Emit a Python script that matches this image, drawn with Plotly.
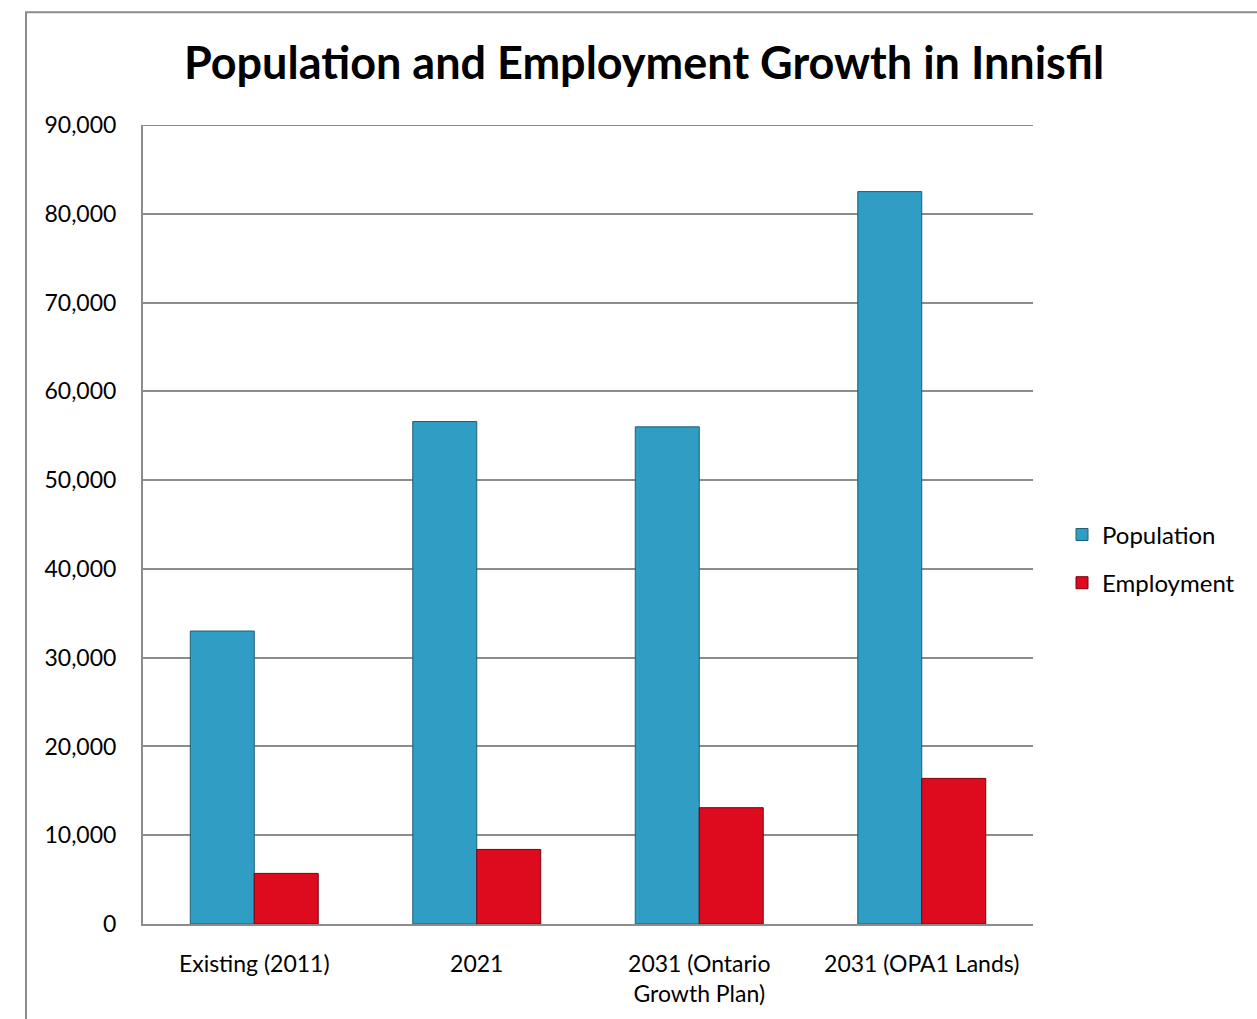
import plotly.graph_objects as go

categories = ["Existing (2011)", "2021", "2031 (Ontario<br>Growth Plan)", "2031 (OPA1 Lands)"]
population = [33000, 56600, 56000, 82500]
employment = [5700, 8400, 13100, 16400]

L, R, T, B = 143, 1033, 125, 926
W, H = 1257, 1019
pw, ph = R - L, B - T

def px_x(px):
    return (px - L) / pw

def px_y(py):
    return (B - py) / ph

fig = go.Figure()
fig.add_trace(go.Bar(name="Population", x=categories, y=population, legendgroup="p",
                     marker=dict(color="#2F9DC4", line=dict(color="#1D5F78", width=1))))
fig.add_trace(go.Bar(name="Employment", x=categories, y=employment, legendgroup="e",
                     marker=dict(color="#DE0A1E", line=dict(color="#7A0010", width=1))))

font = "Lato, 'Open Sans', sans-serif"
fig.update_layout(
    width=W, height=H,
    margin=dict(l=L, r=W - R, t=T, b=H - B),
    paper_bgcolor="white", plot_bgcolor="white",
    barmode="group", bargap=0.425, bargroupgap=0,
    font=dict(family=font, size=23, color="black"),
    title=dict(text="<b>Population and Employment Growth in Innisfil</b>",
               x=644 / W, xanchor="center",
               y=1 - 63 / H, yanchor="middle",
               font=dict(size=45, family=font, color="black")),
    legend=dict(x=px_x(1062), y=px_y(560), xanchor="left", yanchor="middle",
                font=dict(size=24), itemwidth=30, tracegroupgap=14),
    showlegend=True,
)
fig.update_xaxes(showline=True, linecolor="#8C8C8C", linewidth=2, ticks="outside",
                 ticklen=18, tickcolor="rgba(0,0,0,0)",
                 tickfont=dict(size=23), mirror=False)
fig.update_yaxes(range=[0, 90000], dtick=10000, tickformat=",", showgrid=True,
                 gridcolor="#8C8C8C", gridwidth=2, showline=True, linecolor="#8C8C8C",
                 linewidth=2, ticks="", tickfont=dict(size=23), zeroline=False,
                 ticklabelstandoff=20)

fig.add_shape(type="line", xref="paper", yref="y", x0=0, x1=1, y0=90000, y1=90000,
              line=dict(color="#8C8C8C", width=2), layer="below")
fig.add_shape(type="rect", xref="paper", yref="paper",
              x0=px_x(26), x1=px_x(1300), y0=px_y(1060), y1=px_y(12),
              line=dict(color="#8C8C8C", width=2), fillcolor="rgba(0,0,0,0)", layer="below")

fig.write_html("out.html")
